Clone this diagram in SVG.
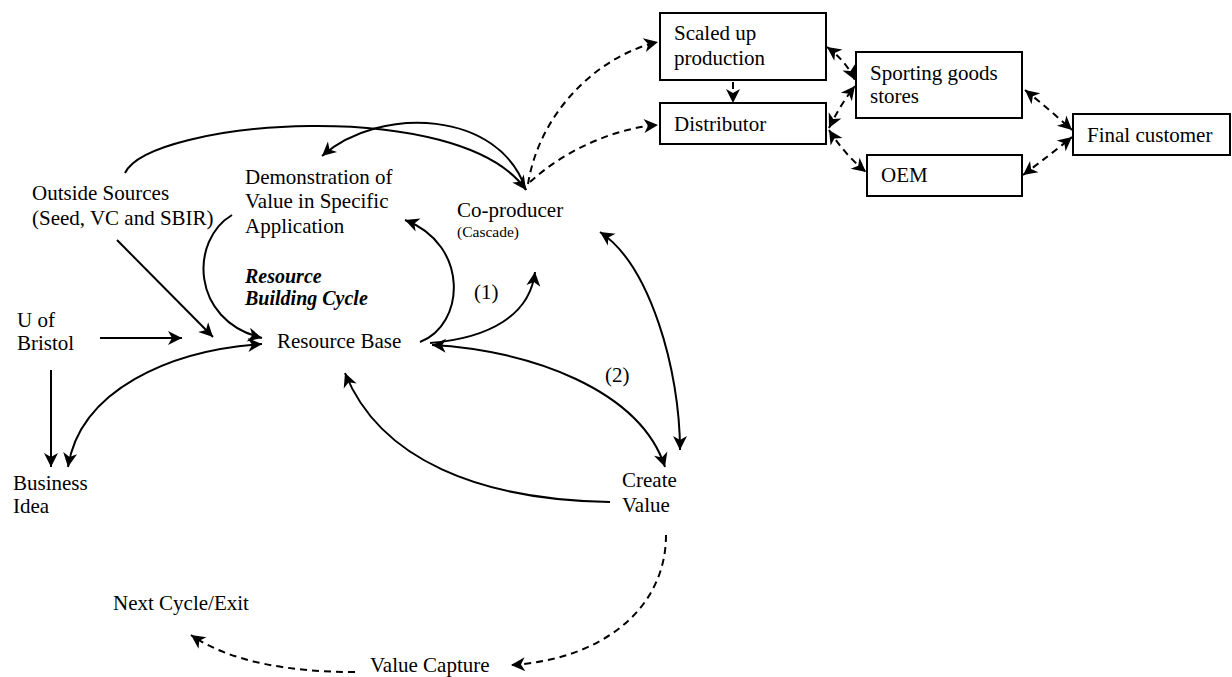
<svg xmlns="http://www.w3.org/2000/svg" width="1232" height="677" viewBox="0 0 1232 677" font-family="'Liberation Serif', 'DejaVu Serif', 'Times New Roman', serif">
  <style>
    text { font-family: "Liberation Serif", "DejaVu Serif", "Times New Roman", serif; font-size: 21px; fill: #000; }
    .small { font-size: 15.5px; }
    .bi { font-weight: bold; font-style: italic; font-size: 20px; }
    .box { fill: #fff; stroke: #000; stroke-width: 2; }
    .solid { fill: none; stroke: #000; stroke-width: 2; }
    .dash { fill: none; stroke: #000; stroke-width: 2; stroke-dasharray: 7 5; }
  </style>
  <defs>
    <marker id="arrow" viewBox="0 -8 16 16" refX="15" refY="0" markerWidth="16" markerHeight="16" markerUnits="userSpaceOnUse" orient="auto-start-reverse">
      <path d="M1,-7 L15,0 L1,7 L5,0 Z" fill="#000"/>
    </marker>
  </defs>

  <rect width="1232" height="677" fill="#fff"/>

  <!-- connectors -->
  <g id="connectors">
    <!-- solid links of the resource building cycle -->
    <path class="solid" d="M125,173 C150,120 460,95 526,190" marker-end="url(#arrow)"/>
    <path class="solid" d="M526,190 C500,110 380,105 322,156" marker-end="url(#arrow)"/>
    <path class="solid" d="M232,215 C190,240 190,320 262,338" marker-end="url(#arrow)"/>
    <path class="solid" d="M420,342 C465,325 470,245 405,220" marker-end="url(#arrow)"/>
    <path class="solid" d="M430,343 C490,338 530,315 535,272" marker-end="url(#arrow)"/>
    <path class="solid" d="M432,345 C530,350 640,390 665,467" marker-start="url(#arrow)" marker-end="url(#arrow)"/>
    <path class="solid" d="M600,232 C650,265 680,370 680,450" marker-start="url(#arrow)" marker-end="url(#arrow)"/>
    <path class="solid" d="M610,502 C480,500 380,460 345,373" marker-end="url(#arrow)"/>
    <path class="solid" d="M262,344 C170,350 80,390 68,467" marker-start="url(#arrow)" marker-end="url(#arrow)"/>
    <path class="solid" d="M117,240 L213,337" marker-end="url(#arrow)"/>
    <path class="solid" d="M100,338 L182,338" marker-end="url(#arrow)"/>
    <path class="solid" d="M51,370 L51,467" marker-end="url(#arrow)"/>

    <!-- dashed supply-chain links -->
    <path class="dash" d="M528,184 C540,110 600,55 658,42" marker-end="url(#arrow)"/>
    <path class="dash" d="M530,182 C565,150 615,128 658,125" marker-end="url(#arrow)"/>
    <path class="dash" d="M733,82 L733,103" marker-end="url(#arrow)"/>
    <path class="dash" d="M827,47 Q845,60 855,80" marker-start="url(#arrow)" marker-end="url(#arrow)"/>
    <path class="dash" d="M829,128 Q840,105 855,86" marker-start="url(#arrow)" marker-end="url(#arrow)"/>
    <path class="dash" d="M829,130 Q845,155 866,172" marker-start="url(#arrow)" marker-end="url(#arrow)"/>
    <path class="dash" d="M1025,90 Q1050,110 1072,130" marker-start="url(#arrow)" marker-end="url(#arrow)"/>
    <path class="dash" d="M1023,175 Q1050,155 1072,137" marker-start="url(#arrow)" marker-end="url(#arrow)"/>

    <!-- value capture path -->
    <path class="dash" d="M666,535 C666,610 600,660 511,665" marker-end="url(#arrow)"/>
    <path class="dash" d="M355,672 C290,672 230,662 191,635" marker-end="url(#arrow)"/>
  </g>

  <!-- nodes -->
  <g id="outside-sources">
    <text x="32" y="200">Outside Sources</text>
    <text x="32" y="225">(Seed, VC and SBIR)</text>
  </g>
  <g id="demonstration">
    <text x="245" y="184">Demonstration of</text>
    <text x="245" y="208">Value in Specific</text>
    <text x="245" y="233">Application</text>
  </g>
  <g id="cycle-label">
    <text class="bi" x="245" y="283">Resource</text>
    <text class="bi" x="245" y="305">Building Cycle</text>
  </g>
  <g id="co-producer">
    <text x="457" y="217">Co-producer</text>
    <text class="small" x="457" y="237">(Cascade)</text>
  </g>
  <g id="u-of-bristol">
    <text x="17" y="327">U of</text>
    <text x="17" y="350">Bristol</text>
  </g>
  <g id="resource-base">
    <text x="277" y="348">Resource Base</text>
  </g>
  <g id="label-1"><text x="474" y="299">(1)</text></g>
  <g id="label-2"><text x="605" y="382">(2)</text></g>
  <g id="create-value">
    <text x="622" y="487">Create</text>
    <text x="622" y="512">Value</text>
  </g>
  <g id="business-idea">
    <text x="13" y="490">Business</text>
    <text x="13" y="513">Idea</text>
  </g>
  <g id="next-cycle">
    <text x="113" y="610">Next Cycle/Exit</text>
  </g>
  <g id="value-capture">
    <text x="370" y="672">Value Capture</text>
  </g>

  <g id="scaled-up">
    <rect class="box" x="660" y="13" width="166" height="67"/>
    <text x="674" y="40">Scaled up</text>
    <text x="674" y="65">production</text>
  </g>
  <g id="distributor">
    <rect class="box" x="660" y="103" width="166" height="41"/>
    <text x="674" y="131">Distributor</text>
  </g>
  <g id="sporting-goods">
    <rect class="box" x="856" y="52" width="166" height="66"/>
    <text x="870" y="80">Sporting goods</text>
    <text x="870" y="103">stores</text>
  </g>
  <g id="oem">
    <rect class="box" x="867" y="155" width="155" height="41"/>
    <text x="881" y="182">OEM</text>
  </g>
  <g id="final-customer">
    <rect class="box" x="1073" y="114" width="157" height="41"/>
    <text x="1087" y="142">Final customer</text>
  </g>
</svg>
